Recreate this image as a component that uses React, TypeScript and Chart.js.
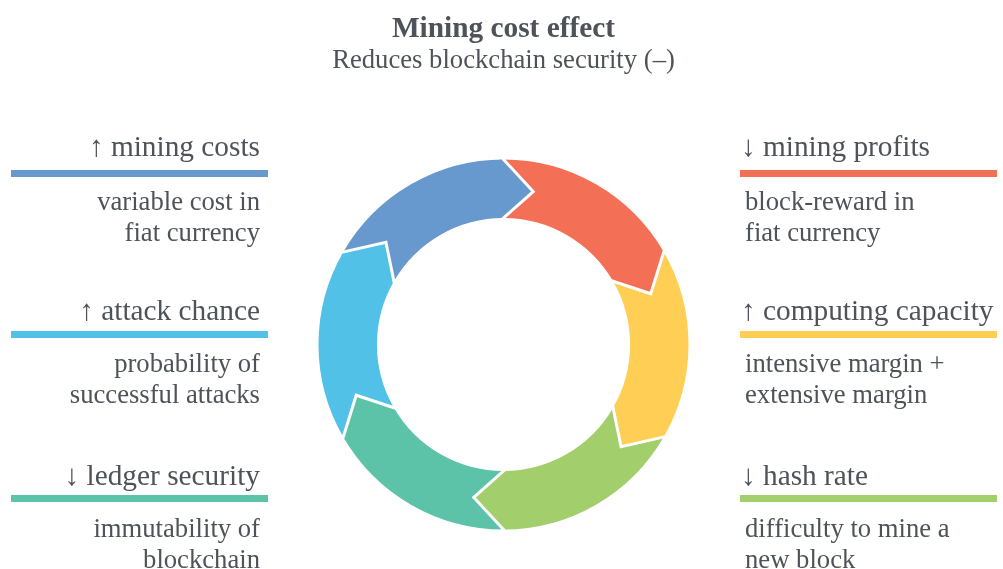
import React, { useEffect, useRef } from "react";
import { Chart, registerables } from "chart.js";

Chart.register(...registerables);

// ---- data ----
const TITLE = "Mining cost effect";
const SUBTITLE = "Reduces blockchain security (–)";
const CATEGORIES = [
  "↓ mining profits",
  "↑ computing capacity",
  "↓ hash rate",
  "↓ ledger security",
  "↑ attack chance",
  "↑ mining costs",
];
const DESCRIPTIONS = [
  ["block-reward in", "fiat currency"],
  ["intensive margin +", "extensive margin"],
  ["difficulty to mine a", "new block"],
  ["immutability of", "blockchain"],
  ["probability of", "successful attacks"],
  ["variable cost in", "fiat currency"],
];
const VALUES = [1, 1, 1, 1, 1, 1];
const COLORS = ["#F36F56", "#FECE55", "#A3CE6C", "#5CC2A8", "#52C1E8", "#6799CE"];

// ---- layout / style ----
const W = 1003;
const H = 569;
const TEXT_COLOR = "#4e5359";
const FONT = '"Liberation Serif", "Times New Roman", serif';
const HEAD_TOP = [128, 291.5, 457];
const BAR_TOP = [170.3, 331, 495.2];
const DESC_TOP = [186.2, 348, 512.8];
const TIP_ANGLE = (11 * Math.PI) / 180;

const arrowPlugin = {
  id: "cycleArrows",
  afterDatasetsDraw(chart: any) {
    const meta = chart.getDatasetMeta(0);
    const ctx = chart.ctx;
    meta.data.forEach((arc: any) => {
      const p = arc.getProps(["x", "y", "endAngle", "innerRadius", "outerRadius"], true);
      const { x, y, endAngle, innerRadius, outerRadius } = p;
      const mid = (innerRadius + outerRadius) / 2;
      const pt = (r: number, a: number) => [x + r * Math.cos(a), y + r * Math.sin(a)];
      const back = endAngle - 0.02;
      const tipA = endAngle + TIP_ANGLE;
      ctx.save();
      ctx.beginPath();
      let q = pt(outerRadius, back);
      ctx.moveTo(q[0], q[1]);
      q = pt(outerRadius, endAngle);
      ctx.lineTo(q[0], q[1]);
      q = pt(mid, tipA);
      ctx.lineTo(q[0], q[1]);
      q = pt(innerRadius, endAngle);
      ctx.lineTo(q[0], q[1]);
      q = pt(innerRadius, back);
      ctx.lineTo(q[0], q[1]);
      ctx.closePath();
      ctx.fillStyle = arc.options.backgroundColor;
      ctx.fill();
      // white outline on the chevron edges
      const ext = 4;
      const o = pt(outerRadius, endAngle);
      const t = pt(mid, tipA);
      const i = pt(innerRadius, endAngle);
      const extend = (a: number[], b: number[], len: number) => {
        const dx = a[0] - b[0];
        const dy = a[1] - b[1];
        const d = Math.hypot(dx, dy);
        return [a[0] + (dx / d) * len, a[1] + (dy / d) * len];
      };
      const o2 = extend(o, t, ext);
      const i2 = extend(i, t, ext);
      ctx.beginPath();
      ctx.moveTo(o2[0], o2[1]);
      ctx.lineTo(t[0], t[1]);
      ctx.lineTo(i2[0], i2[1]);
      ctx.strokeStyle = "#ffffff";
      ctx.lineWidth = 3;
      ctx.lineJoin = "miter";
      ctx.miterLimit = 10;
      ctx.stroke();
      ctx.restore();
    });
  },
};

export default function App() {
  const ref = useRef<HTMLCanvasElement | null>(null);

  useEffect(() => {
    if (!ref.current) return;
    const chart = new Chart(ref.current, {
      type: "doughnut",
      data: {
        labels: CATEGORIES,
        datasets: [
          {
            data: VALUES,
            backgroundColor: COLORS,
            borderWidth: 0,
            hoverOffset: 0,
          },
        ],
      },
      options: {
        responsive: false,
        animation: false,
        events: [],
        cutout: "68.4%",
        layout: { padding: { left: 318.5, right: 314.5, top: 159.5, bottom: 39.5 } },
        plugins: {
          legend: { display: false },
          tooltip: { enabled: false },
          title: { display: false },
        },
      },
      plugins: [arrowPlugin],
    });
    return () => chart.destroy();
  }, []);

  const labels = CATEGORIES.map((cat, idx) => {
    const right = idx < 3;
    const row = right ? idx : 5 - idx;
    const color = COLORS[idx];
    const textStyle: React.CSSProperties = right
      ? { left: 741, textAlign: "left" }
      : { right: W - 260, textAlign: "right" };
    return (
      <React.Fragment key={idx}>
        <div
          style={{
            position: "absolute",
            top: HEAD_TOP[row],
            fontSize: "29.33px",
            lineHeight: "36px",
            whiteSpace: "nowrap",
            color: TEXT_COLOR,
            ...textStyle,
          }}
        >
          {cat}
        </div>
        <div
          style={{
            position: "absolute",
            top: BAR_TOP[row],
            left: right ? 740 : 11,
            width: 257,
            height: 6.5,
            background: color,
          }}
        />
        <div
          style={{
            position: "absolute",
            top: DESC_TOP[row],
            fontSize: "26.67px",
            lineHeight: "31px",
            whiteSpace: "nowrap",
            color: TEXT_COLOR,
            ...(right ? { left: 745, textAlign: "left" } : { right: W - 260, textAlign: "right" }),
          }}
        >
          {DESCRIPTIONS[idx].map((l, k) => (
            <div key={k}>{l}</div>
          ))}
        </div>
      </React.Fragment>
    );
  });

  return (
    <div
      style={{
        position: "fixed",
        left: 0,
        top: 0,
        width: W,
        height: H,
        overflow: "hidden",
        background: "#ffffff",
        fontFamily: FONT,
      }}
    >
      <canvas ref={ref} width={W} height={H} style={{ position: "absolute", left: 0, top: 0 }} />
      <div
        style={{
          position: "absolute",
          left: 0,
          width: 1007,
          top: 9,
          textAlign: "center",
          fontSize: "29.33px",
          lineHeight: "36px",
          fontWeight: "bold",
          color: TEXT_COLOR,
        }}
      >
        {TITLE}
      </div>
      <div
        style={{
          position: "absolute",
          left: 0,
          width: 1007,
          top: 43.8,
          textAlign: "center",
          fontSize: "26.67px",
          lineHeight: "31px",
          color: TEXT_COLOR,
        }}
      >
        {SUBTITLE}
      </div>
      {labels}
    </div>
  );
}
